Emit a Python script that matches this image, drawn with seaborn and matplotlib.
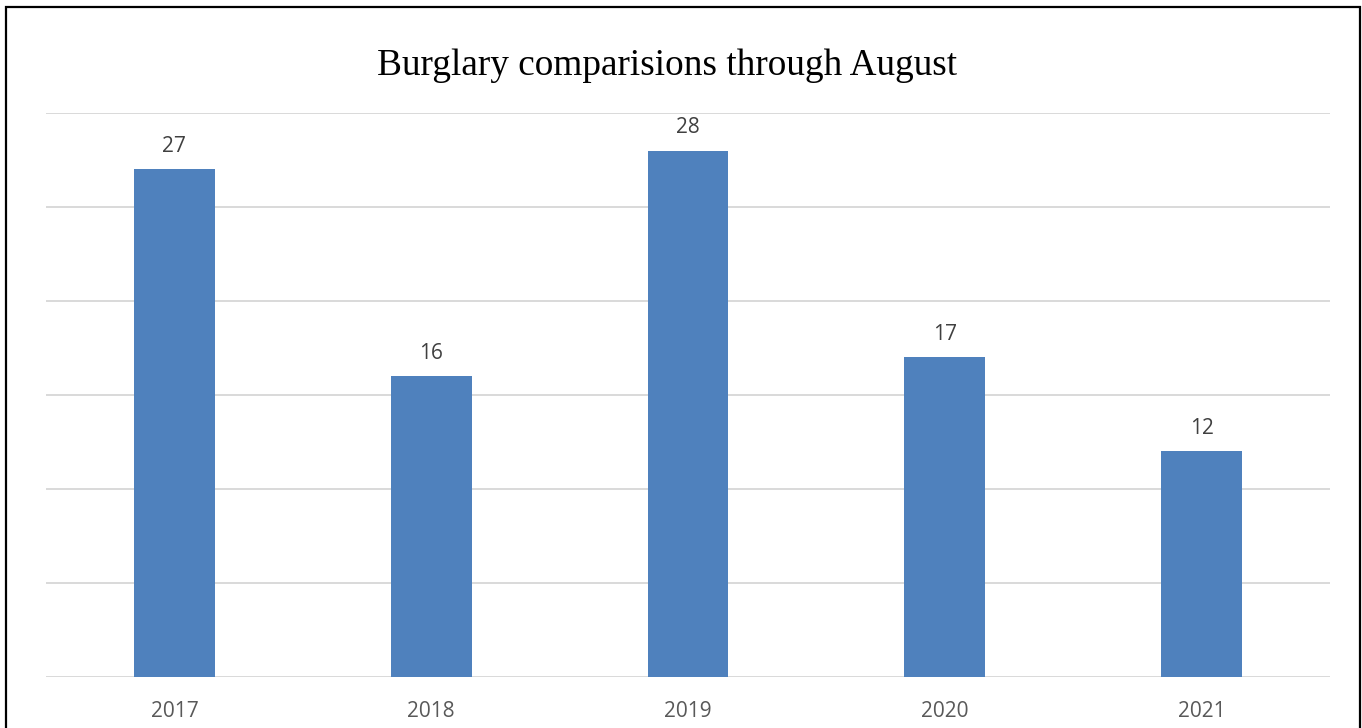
import matplotlib
matplotlib.use("Agg")
import matplotlib.pyplot as plt
import matplotlib.patches as mpatches
import seaborn as sns
import pandas as pd

years = ["2017", "2018", "2019", "2020", "2021"]
burglaries = [27, 16, 28, 17, 12]
title = "Burglary comparisions through August"

df = pd.DataFrame({"year": years, "count": burglaries})

sns.set_theme(style="white")
plt.rcParams["font.family"] = ["Open Sans", "DejaVu Sans"]

W, H = 1362, 728
fig = plt.figure(figsize=(W / 100, H / 100), dpi=100)
ax = fig.add_axes([46 / W, (H - 677) / H, (1330 - 46) / W, (677 - 113) / H])

sns.barplot(data=df, x="year", y="count", color="#4f81bd", width=0.315,
            saturation=1, linewidth=0, ax=ax, zorder=3)

ax.set_ylim(0, 30)
ax.set_xlim(-0.5, len(years) - 0.5)
ax.set_yticks(range(0, 31, 5))
ax.yaxis.grid(True, color="#d9d9d9", linewidth=1.4, zorder=0)
ax.xaxis.grid(False)
ax.set_axisbelow(True)
for s in ax.spines.values():
    s.set_visible(False)
ax.set_yticklabels([])
ax.tick_params(axis="y", length=0)
ax.tick_params(axis="x", length=0, labelsize=15, colors="#595959", pad=17.5)
ax.set_xlabel("")
ax.set_ylabel("")

for c in ax.containers:
    ax.bar_label(c, labels=[str(v) for v in burglaries], padding=9,
                 fontsize=15, color="#404040")

fig.text(667.5 / W, 1 - 66 / H, title, ha="center", va="center",
         fontsize=26.8, family=["Liberation Serif", "DejaVu Serif"], color="black")

fig.patches.append(mpatches.Rectangle((6 / W, -0.1), (1360 - 6) / W, 1.1 - 7 / H,
                                      transform=fig.transFigure, fill=False,
                                      edgecolor="black", linewidth=1.6))

fig.savefig("out.png", dpi=100)
